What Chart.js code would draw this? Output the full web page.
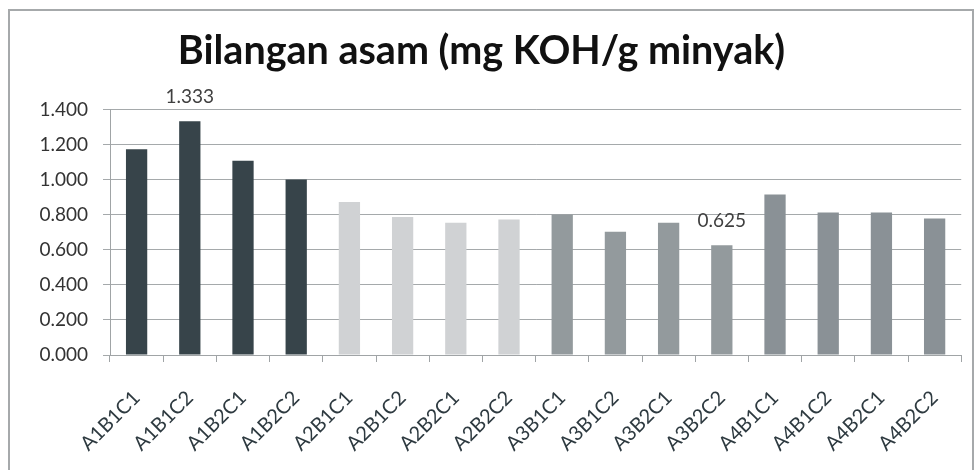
<!DOCTYPE html>
<html>
<head>
<meta charset="utf-8">
<script src="https://cdn.jsdelivr.net/npm/chart.js@4"></script>
<style>
  html, body { margin: 0; padding: 0; background: #fff; }
  #wrap { position: relative; width: 976px; height: 470px; }
</style>
</head>
<body>
<div id="wrap"><canvas id="myChart" width="976" height="470"></canvas></div>
<script>
var labels = ["A1B1C1", "A1B1C2", "A1B2C1", "A1B2C2", "A2B1C1", "A2B1C2", "A2B2C1", "A2B2C2",
  "A3B1C1", "A3B1C2", "A3B2C1", "A3B2C2", "A4B1C1", "A4B1C2", "A4B2C1", "A4B2C2"];
var values = [1.173, 1.333, 1.108, 1.000, 0.872, 0.786, 0.754, 0.773,
  0.801, 0.703, 0.754, 0.625, 0.915, 0.813, 0.813, 0.778];
var shownLabels = [1, 11]; // only these bars carry a value label
var yTicks = [0, 0.2, 0.4, 0.6, 0.8, 1.0, 1.2, 1.4];

var groupColors = ["#37444a", "#d0d2d4", "#939a9d", "#8a9196"];
var barColors = labels.map(function (l) {
  return groupColors[parseInt(l.charAt(1)) - 1];
});

// outer frame like the spreadsheet chart border
var framePlugin = {
  id: "frame",
  beforeDraw: function (chart) {
    var ctx = chart.ctx;
    ctx.save();
    ctx.strokeStyle = "#a6a9ab";
    ctx.lineWidth = 2;
    ctx.strokeRect(9, 10, 964, 470);
    ctx.restore();
  }
};

var valueLabels = {
  id: "valueLabels",
  afterDatasetsDraw: function (chart) {
    var ctx = chart.ctx;
    var meta = chart.getDatasetMeta(0);
    ctx.save();
    ctx.font = "19px Lato";
    ctx.fillStyle = "#404040";
    ctx.textAlign = "center";
    ctx.textBaseline = "middle";
    shownLabels.forEach(function (i) {
      var el = meta.data[i];
      ctx.fillText(values[i].toFixed(3), el.x, el.y - 24);
    });
    ctx.restore();
  }
};

var ctx = document.getElementById("myChart").getContext("2d");
var myChart = new Chart(ctx, {
  type: "bar",
  data: {
    labels: labels,
    datasets: [{
      data: values,
      backgroundColor: barColors,
      borderWidth: 0,
      categoryPercentage: 1,
      barPercentage: 0.4
    }]
  },
  options: {
    responsive: false,
    animation: false,
    layout: { padding: { left: 0, right: 13, top: 0, bottom: 0 } },
    scales: {
      x: {
        afterFit: function (axis) { axis.height = 115; },
        grid: { drawOnChartArea: false, color: "#a0a4a6", tickLength: 7 },
        border: { color: "#a0a4a6" },
        ticks: {
          color: "#2e3a40",
          font: { family: "Lato", size: 20 },
          maxRotation: 45,
          minRotation: 45,
          autoSkip: false,
          padding: 24
        }
      },
      y: {
        min: 0,
        max: 1.4,
        afterBuildTicks: function (axis) {
          axis.ticks = yTicks.map(function (v) { return { value: v }; });
        },
        afterFit: function (axis) { axis.width = 110; },
        grid: { color: "#a5a9ab", tickLength: 7 },
        border: { color: "#a0a4a6" },
        ticks: {
          color: "#333",
          font: { family: "Lato", size: 19 },
          padding: 15,
          callback: function (v) { return Number(v).toFixed(3); }
        }
      }
    },
    plugins: {
      legend: { display: false },
      tooltip: { enabled: false },
      title: {
        display: true,
        text: "Bilangan asam (mg KOH/g minyak)",
        color: "#111",
        font: { family: "Lato", size: 39.5, weight: "bold" },
        padding: { top: 28, bottom: 34 }
      }
    }
  },
  plugins: [framePlugin, valueLabels]
});
</script>
</body>
</html>
